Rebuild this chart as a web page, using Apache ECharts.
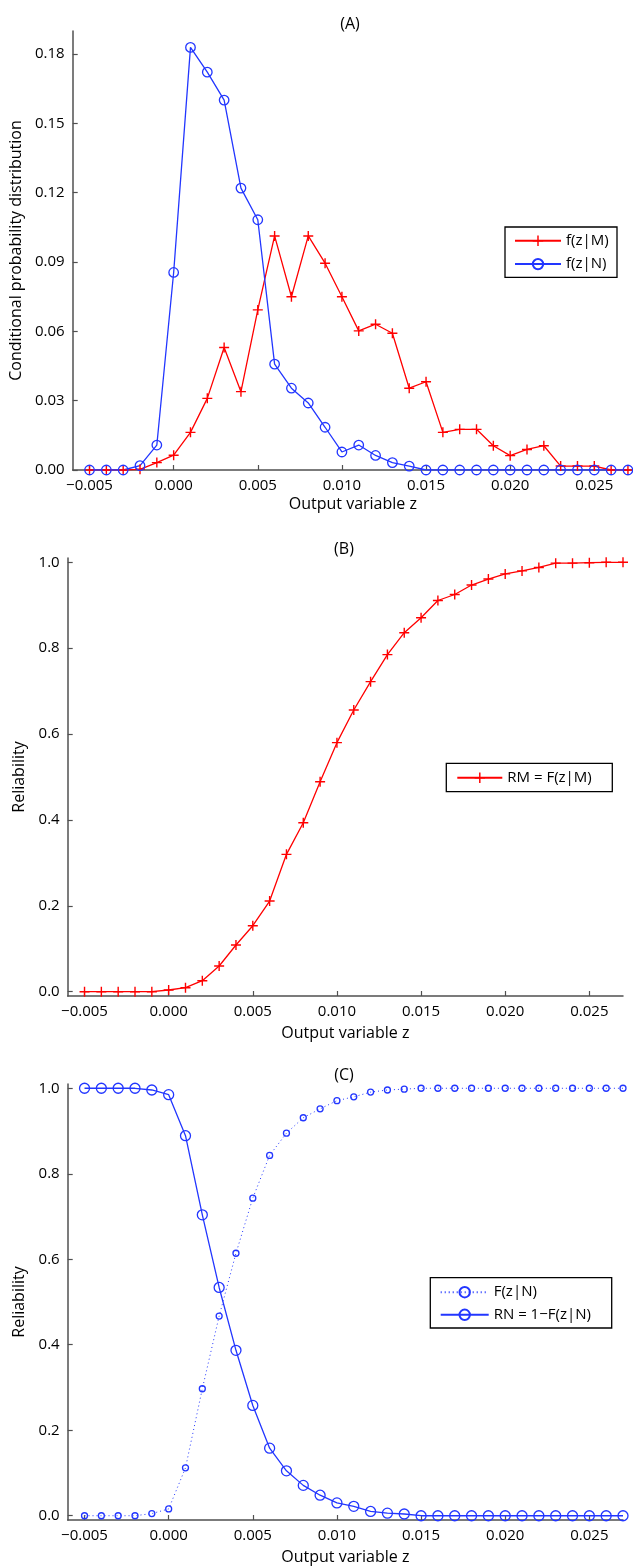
<!DOCTYPE html>
<html>
<head>
<meta charset="utf-8">
<script src="https://cdn.jsdelivr.net/npm/echarts@6.0.0/dist/echarts.min.js"></script>
<style>
  html, body { margin: 0; padding: 0; background: #fff; }
  #chart { width: 633px; height: 1566px; }
</style>
</head>
<body>
<div id="chart"></div>
<script>
// ---- Data ----
const z = [-0.005, -0.004, -0.003, -0.002, -0.001, 0.000, 0.001, 0.002, 0.003, 0.004, 0.005,
           0.006, 0.007, 0.008, 0.009, 0.010, 0.011, 0.012, 0.013, 0.014, 0.015, 0.016,
           0.017, 0.018, 0.019, 0.020, 0.021, 0.022, 0.023, 0.024, 0.025, 0.026, 0.027];

// Panel (A): conditional probability distributions
const fzM = [0, 0, 0, 0.0003, 0.0032, 0.0064, 0.0163, 0.031, 0.053, 0.0339, 0.0693,
             0.1013, 0.075, 0.1013, 0.0895, 0.075, 0.0602, 0.0631, 0.0592, 0.0354, 0.0382, 0.0163,
             0.0176, 0.0176, 0.0105, 0.0062, 0.0089, 0.0105, 0.0017, 0.0017, 0.0017, 0, 0];
const fzN = [0, 0, 0, 0.0019, 0.0108, 0.0855, 0.1829, 0.1722, 0.1601, 0.122, 0.1083,
             0.0458, 0.0354, 0.029, 0.0185, 0.0078, 0.0108, 0.0063, 0.0032, 0.0017, 0, 0,
             0, 0, 0, 0, 0, 0, 0, 0, 0, 0, 0];

// Panel (B): RM = F(z|M)
const RM = [0, 0, 0, 0, 0, 0.004, 0.0093, 0.0256, 0.0598, 0.1087, 0.1537,
            0.2112, 0.3199, 0.3936, 0.4891, 0.58, 0.656, 0.722, 0.785, 0.836, 0.871, 0.911,
            0.925, 0.947, 0.961, 0.973, 0.98, 0.988, 0.998, 0.998, 0.999, 1.0, 1.0];

// Panel (C): F(z|N) and RN = 1-F(z|N)
const FN = [0, 0, 0, 0, 0.005, 0.016, 0.112, 0.297, 0.467, 0.614, 0.743,
            0.843, 0.895, 0.931, 0.952, 0.971, 0.980, 0.991, 0.996, 0.998, 1, 1,
            1, 1, 1, 1, 1, 1, 1, 1, 1, 1, 1];
const RN = [1, 1, 1, 1, 0.996, 0.985, 0.889, 0.704, 0.534, 0.387, 0.258,
            0.158, 0.105, 0.071, 0.048, 0.030, 0.022, 0.010, 0.006, 0.004, 0, 0,
            0, 0, 0, 0, 0, 0, 0, 0, 0, 0, 0];

// Tick labels
const xTicks = [-0.005, 0.000, 0.005, 0.010, 0.015, 0.020, 0.025];
const yTicksA = [0.00, 0.03, 0.06, 0.09, 0.12, 0.15, 0.18];
const yTicksBC = [0.0, 0.2, 0.4, 0.6, 0.8, 1.0];

// Titles / names
const panelTitles = ['(A)', '(B)', '(C)'];
const xName = 'Output variable z';
const yNames = ['Conditional probability distribution', 'Reliability', 'Reliability'];
const seriesNames = ['f(z|M)', 'f(z|N)', 'RM = F(z|M)', 'F(z|N)', 'RN = 1\u2212F(z|N)'];

// ---- Styling ----
const RED = '#ff0000';
const BLUE = '#2236ff';
const AXIS = '#505050';
const FONT = 'Open Sans';
const PLUS = 'path://M0,4.3L4.3,4.3L4.3,0L5.7,0L5.7,4.3L10,4.3L10,5.7L5.7,5.7L5.7,10L4.3,10L4.3,5.7L0,5.7Z';

const pair = arr => arr.map((v, i) => [z[i], v]);
const fmt = d => v => v.toFixed(d).replace('-', '\u2212');

function xAxisCfg(gridIndex, max, nameGap) {
  return {
    type: 'value', gridIndex, min: -0.006, max,
    name: xName, nameLocation: 'middle', nameGap,
    nameTextStyle: { fontSize: 16, color: '#000', fontFamily: FONT },
    axisLine: { onZero: false, lineStyle: { color: AXIS, width: 1.5 } },
    axisTick: { inside: true, length: 5, customValues: xTicks, lineStyle: { color: AXIS, width: 1.2 } },
    axisLabel: { customValues: xTicks, formatter: fmt(3), margin: 8, fontSize: 15, color: '#000', fontFamily: FONT },
    splitLine: { show: false }
  };
}
function yAxisCfg(gridIndex, min, max, ticks, dec, name, nameGap) {
  return {
    type: 'value', gridIndex, min, max,
    name, nameLocation: 'middle', nameGap, nameRotate: 90,
    nameTextStyle: { fontSize: 16, color: '#000', fontFamily: FONT },
    axisLine: { show: true, onZero: false, lineStyle: { color: AXIS, width: 1.5 } },
    axisTick: { show: true, inside: true, length: 5, customValues: ticks, lineStyle: { color: AXIS, width: 1.2 } },
    axisLabel: { customValues: ticks, formatter: fmt(dec), margin: 8, fontSize: 15, color: '#000', fontFamily: FONT },
    splitLine: { show: false }
  };
}
function legendCfg(left, top, names, itemWidth, textWidth, itemGap, padding) {
  return {
    left, top, orient: 'vertical', data: names, selectedMode: false,
    borderColor: '#000', borderWidth: 1.3, borderRadius: 0, backgroundColor: '#fff',
    padding, itemWidth, itemHeight: 13, itemGap,
    textStyle: { fontSize: 15, lineHeight: 14, width: textWidth, color: '#000', fontFamily: FONT }
  };
}

const option = {
  animation: false,
  backgroundColor: '#fff',
  textStyle: { fontFamily: FONT },
  title: [
    { text: panelTitles[0], left: 345, top: 11, textAlign: 'center', textStyle: { fontSize: 16, fontWeight: 'normal', color: '#000', fontFamily: FONT } },
    { text: panelTitles[1], left: 339, top: 536, textAlign: 'center', textStyle: { fontSize: 16, fontWeight: 'normal', color: '#000', fontFamily: FONT } },
    { text: panelTitles[2], left: 339, top: 1062, textAlign: 'center', textStyle: { fontSize: 16, fontWeight: 'normal', color: '#000', fontFamily: FONT } }
  ],
  grid: [
    { left: 72.7, top: 31, width: 560.3, height: 439, outerBoundsMode: 'none', containLabel: false },
    { left: 67.7, top: 558, width: 555.3, height: 438, outerBoundsMode: 'none', containLabel: false },
    { left: 67.7, top: 1084, width: 555.3, height: 436, outerBoundsMode: 'none', containLabel: false }
  ],
  xAxis: [
    xAxisCfg(0, 0.0273, 26),
    xAxisCfg(1, 0.027, 29),
    xAxisCfg(2, 0.027, 29)
  ],
  yAxis: [
    yAxisCfg(0, 0, 0.19, yTicksA, 2, yNames[0], 48),
    yAxisCfg(1, -0.01, 1.01, yTicksBC, 1, yNames[1], 38),
    yAxisCfg(2, -0.01, 1.01, yTicksBC, 1, yNames[2], 38)
  ],
  legend: [
    legendCfg(505, 227, [seriesNames[0], seriesNames[1]], 46, 45, 8.3, [6.3, 6, 5.7, 9]),
    legendCfg(446.3, 763.3, [seriesNames[2]], 45, 100, 8, [7, 5, 6.4, 10]),
    legendCfg(430.3, 1277.7, [seriesNames[3], seriesNames[4]], 48, 113, 7.6, [7, 5, 5.7, 9.4])
  ],
  series: [
    {
      name: seriesNames[0], type: 'line', xAxisIndex: 0, yAxisIndex: 0, data: pair(fzM),
      symbol: PLUS, symbolSize: 10, showAllSymbol: true,
      itemStyle: { color: RED }, lineStyle: { color: RED, width: 1.3 }
    },
    {
      name: seriesNames[1], type: 'line', xAxisIndex: 0, yAxisIndex: 0, data: pair(fzN),
      symbol: 'circle', symbolSize: 9.5, showAllSymbol: true,
      itemStyle: { color: 'transparent', borderColor: BLUE, borderWidth: 1.3 },
      lineStyle: { color: BLUE, width: 1.3 }
    },
    {
      name: seriesNames[2], type: 'line', xAxisIndex: 1, yAxisIndex: 1, data: pair(RM),
      symbol: PLUS, symbolSize: 10, showAllSymbol: true,
      itemStyle: { color: RED }, lineStyle: { color: RED, width: 1.3 }
    },
    {
      name: seriesNames[3], type: 'line', xAxisIndex: 2, yAxisIndex: 2, data: pair(FN),
      symbol: 'circle', symbolSize: 6, showAllSymbol: true,
      itemStyle: { color: 'transparent', borderColor: BLUE, borderWidth: 1.3 },
      lineStyle: { color: BLUE, width: 1, type: [1, 3] }
    },
    {
      name: seriesNames[4], type: 'line', xAxisIndex: 2, yAxisIndex: 2, data: pair(RN),
      symbol: 'circle', symbolSize: 10, showAllSymbol: true,
      itemStyle: { color: 'transparent', borderColor: BLUE, borderWidth: 1.3 },
      lineStyle: { color: BLUE, width: 1.3 }
    }
  ]
};

const chart = echarts.init(document.getElementById('chart'), null, { renderer: 'canvas', width: 633, height: 1566 });
chart.setOption(option);
</script>
</body>
</html>
